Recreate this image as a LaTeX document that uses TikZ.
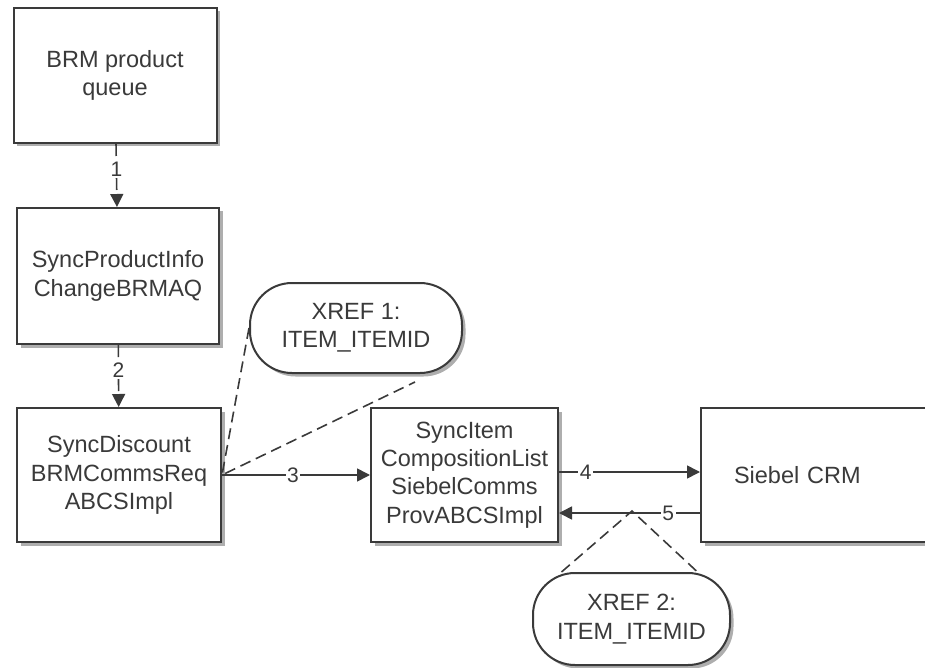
\documentclass[tikz,border=0pt]{standalone}
\usepackage{fontspec}
\setmainfont{Liberation Sans}
\usetikzlibrary{arrows.meta,shadows}
\definecolor{inkgray}{HTML}{3A3A3A}

\begin{document}
\begin{tikzpicture}[x=1pt,y=-1pt,>={Triangle[length=13pt,width=13pt]},
  font=\fontsize{23.5}{28.3}\selectfont,text=inkgray,
  procbox/.style={draw=inkgray,line width=2pt,fill=white,align=center,
    drop shadow={shadow xshift=3.5pt,shadow yshift=-3.5pt,opacity=.45,fill=black!70}},
  xrefbox/.style={procbox,rounded corners=42pt},
  flow/.style={->,draw=inkgray,line width=1.6pt},
  dashflow/.style={flow,dash pattern=on 12pt off 5pt},
  steplabel/.style={fill=white,inner sep=1.5pt,font=\fontsize{21}{24}\selectfont},
  pointer/.style={draw=inkgray,line width=1.6pt,dash pattern=on 11pt off 6pt}]
  \useasboundingbox (0,0) rectangle (925,668);
  \clip (0,0) rectangle (925,668);
  % processes
  \node[procbox,minimum width=203pt,minimum height=135pt] (queue) at (115,75.5) {BRM product\\queue};
  \node[procbox,minimum width=202pt,minimum height=136pt] (infochange) at (118,276) {SyncProductInfo\\ChangeBRMAQ};
  \node[procbox,minimum width=204pt,minimum height=134pt] (discount) at (119,475) {SyncDiscount\\BRMCommsReq\\ABCSImpl};
  \node[procbox,minimum width=187pt,minimum height=134pt] (itemlist) at (464.5,475) {SyncItem\\CompositionList\\SiebelComms\\ProvABCSImpl};
  \node[procbox,anchor=west,minimum height=134pt,inner xsep=33pt,text width=220pt,align=left] (siebel) at (700,475) {Siebel CRM};
  % cross references
  \node[xrefbox,minimum width=212pt,minimum height=90pt] (xref1) at (356,328) {XREF 1:\\ITEM\_ITEMID};
  \node[xrefbox,minimum width=197pt,minimum height=92pt] (xref2) at (631.5,619) {XREF 2:\\ITEM\_ITEMID};
  % messages
  \draw[dashflow] (queue) -- node[steplabel,pos=.4]{1} (infochange);
  \draw[dashflow] (infochange) -- node[steplabel,pos=.4]{2} (discount);
  \draw[flow] (discount) -- node[steplabel,pos=.48]{3} (itemlist);
  \draw[flow] ([yshift=3pt]itemlist.east) -- node[steplabel,pos=.19]{4} ([yshift=3pt]siebel.west);
  \draw[flow] ([yshift=-38pt]siebel.west) -- node[steplabel,pos=.225]{5} ([yshift=-38pt]itemlist.east);
  % xref pointers
  \coordinate (bend1) at (415,382);
  \coordinate (bend2) at (632,511);
  \draw[pointer] (xref1.west) -- (discount.east) -- (bend1);
  \draw[pointer] ([xshift=-70pt]xref2.north) -- (bend2) -- ([xshift=66pt]xref2.north);
\end{tikzpicture}
\end{document}
